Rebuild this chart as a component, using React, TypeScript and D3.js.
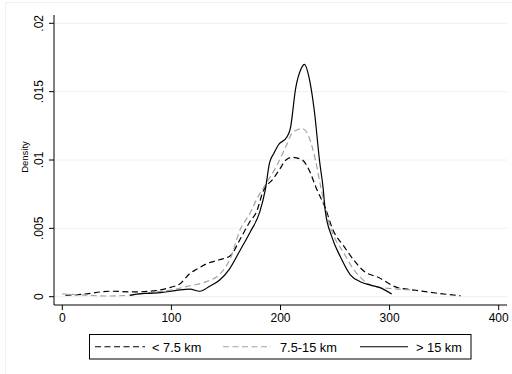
import React from "react";
import * as d3 from "d3";

// density estimates: [distance, density]
const nearData: [number, number][] = [
  [3, 0.0001], [19, 0.00018], [44, 0.0004], [65, 0.00035], [86, 0.00045],
  [100, 0.0007], [108, 0.00095], [117, 0.0017], [123, 0.002], [132, 0.0024],
  [144, 0.0027], [154, 0.003], [163, 0.0042], [172, 0.0055], [178, 0.0062],
  [184, 0.0077], [193, 0.0086], [199, 0.0093], [205, 0.01], [211, 0.0102],
  [220, 0.01], [226, 0.0093], [233, 0.0079], [241, 0.0065], [248, 0.0049],
  [258, 0.0037], [268, 0.0026], [276, 0.0019], [290, 0.0014], [306, 0.0007],
  [324, 0.00047], [342, 0.00027], [365, 0.00007],
];

const midData: [number, number][] = [
  [0, 0.0002], [20, 0.00012], [40, 0.00005], [60, 0.0001], [80, 0.0003],
  [100, 0.0005], [117, 0.0008], [132, 0.0011], [145, 0.0017], [154, 0.0028],
  [163, 0.0049], [172, 0.0061], [178, 0.0071], [187, 0.0083], [196, 0.0095],
  [205, 0.011], [211, 0.012], [220, 0.0123], [226, 0.0117], [232, 0.01],
  [237, 0.008], [242, 0.0061], [248, 0.0046], [258, 0.0032], [267, 0.002],
  [276, 0.0012], [285, 0.00076], [300, 0.0006], [320, 0.0005],
];

const farData: [number, number][] = [
  [62, 0.0001], [70, 0.0002], [80, 0.00025], [90, 0.0003], [100, 0.0004],
  [108, 0.0005], [117, 0.00055], [126, 0.0004], [135, 0.00076], [144, 0.0012],
  [153, 0.002], [163, 0.0034], [172, 0.0047], [181, 0.0062], [186, 0.0078],
  [190, 0.0098], [194, 0.0105], [198, 0.0111], [206, 0.0117], [209, 0.0123],
  [214, 0.0153], [219, 0.0167], [222, 0.017], [226, 0.0161], [231, 0.0136],
  [236, 0.0098], [239, 0.008], [241, 0.0063], [247, 0.0044], [255, 0.0029],
  [264, 0.0016], [273, 0.0011], [282, 0.00086], [290, 0.0007], [302, 0.0002],
];

const xTicks = [0, 100, 200, 300, 400];
const yTicks = [0, 0.005, 0.01, 0.015, 0.02];
const yTickLabels = ["0", ".005", ".01", ".015", ".02"];
const legendLabels = ["< 7.5 km", "7.5-15 km", "> 15 km"];

const W = 512;
const H = 374;
const FONT = "'Liberation Sans', Arial, sans-serif";

export default function App() {
  const plotLeft = 54;
  const plotRight = 507;
  const plotTop = 15;
  const plotBottom = 305;

  const x = d3.scaleLinear().domain([0, 400]).range([62.3, 498.7]);
  const y = d3.scaleLinear().domain([0, 0.02]).range([296.7, 23.3]);

  const line = d3
    .line<[number, number]>()
    .x((d) => x(d[0]))
    .y((d) => y(d[1]))
    .curve(d3.curveMonotoneX);

  const series = [
    { data: nearData, color: "#000", dash: "6 3.5" },
    { data: midData, color: "#a3a3a3", dash: "6 3.5" },
    { data: farData, color: "#000", dash: undefined as string | undefined },
  ];

  // legend layout
  const legend = {
    x: 89.5,
    y: 334.5,
    w: 381.5,
    h: 24.5,
    items: [
      { x0: 95, x1: 145, tx: 152 },
      { x0: 223, x1: 271, tx: 280 },
      { x0: 360, x1: 408, tx: 416 },
    ],
  };

  return (
    <svg
      width={W}
      height={H}
      style={{ position: "absolute", left: 0, top: 0, background: "#fff" }}
      fontFamily={FONT}
    >
      <rect x={5.5} y={2.5} width={W - 5} height={H} fill="#fff" stroke="#eaf2f3" />

      {/* grid */}
      {yTicks.map((t) => (
        <line
          key={"g" + t}
          x1={plotLeft}
          x2={plotRight}
          y1={y(t)}
          y2={y(t)}
          stroke="#eaf2f3"
          strokeWidth={1}
        />
      ))}

      {/* density curves */}
      {series.map((s, i) => (
        <path
          key={i}
          d={line(s.data) ?? ""}
          fill="none"
          stroke={s.color}
          strokeWidth={1.2}
          strokeDasharray={s.dash}
        />
      ))}

      {/* y axis */}
      <line x1={plotLeft} x2={plotLeft} y1={plotTop} y2={plotBottom} stroke="#000" />
      {yTicks.map((t, i) => (
        <g key={"y" + t}>
          <line x1={plotLeft - 5} x2={plotLeft} y1={y(t)} y2={y(t)} stroke="#000" />
          <text
            transform={`translate(43,${y(t)}) rotate(-90)`}
            textAnchor="middle"
            fontSize={12}
          >
            {yTickLabels[i]}
          </text>
        </g>
      ))}
      <text transform="translate(27.5,157) rotate(-90)" textAnchor="middle" fontSize={9.5}>
        Density
      </text>

      {/* x axis */}
      <line x1={plotLeft} x2={plotRight} y1={plotBottom} y2={plotBottom} stroke="#000" />
      {xTicks.map((t) => (
        <g key={"x" + t}>
          <line x1={x(t)} x2={x(t)} y1={plotBottom} y2={plotBottom + 5} stroke="#000" />
          <text x={x(t)} y={322} textAnchor="middle" fontSize={12}>
            {t}
          </text>
        </g>
      ))}

      {/* legend */}
      <rect x={legend.x} y={legend.y} width={legend.w} height={legend.h} fill="#fff" stroke="#000" />
      {legend.items.map((it, i) => (
        <g key={"l" + i}>
          <line
            x1={it.x0}
            x2={it.x1}
            y1={legend.y + legend.h / 2}
            y2={legend.y + legend.h / 2}
            stroke={series[i].color}
            strokeWidth={1.2}
            strokeDasharray={series[i].dash}
          />
          <text x={it.tx} y={legend.y + 17} fontSize={12.8}>
            {legendLabels[i]}
          </text>
        </g>
      ))}
    </svg>
  );
}
